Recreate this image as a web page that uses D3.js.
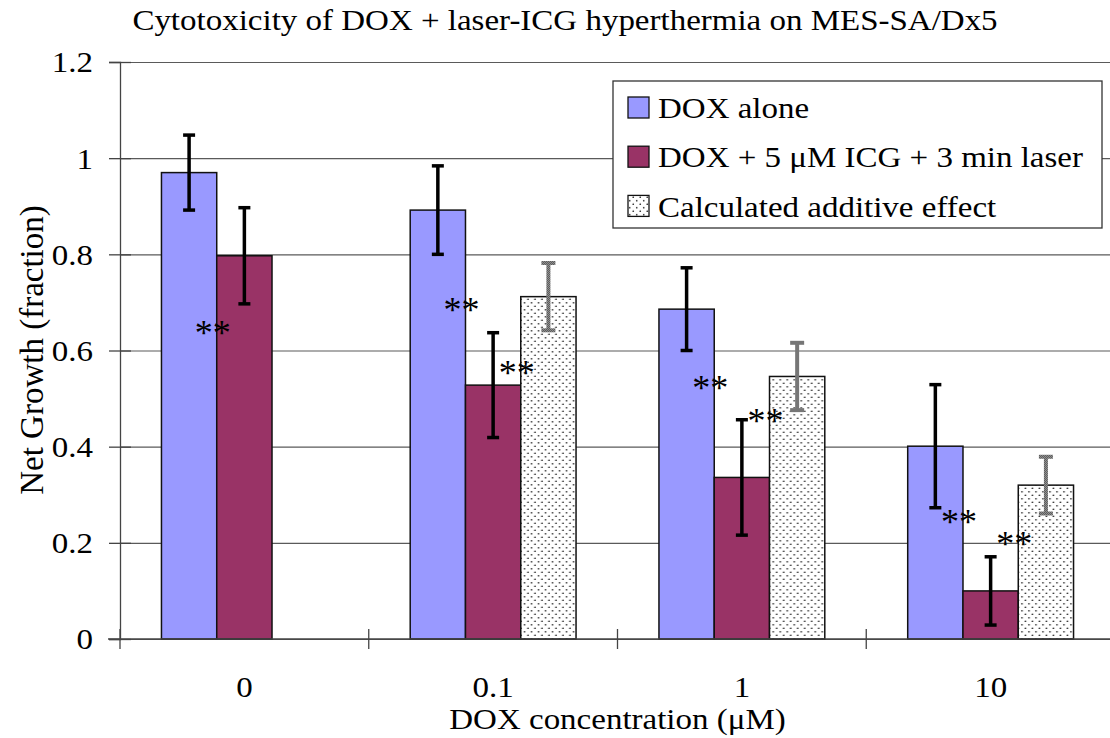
<!DOCTYPE html>
<html>
<head>
<meta charset="utf-8">
<script src="https://cdn.jsdelivr.net/npm/d3@7/dist/d3.min.js"></script>
<style>
  body { margin: 0; background: #fff; }
  svg { display: block; font-family: "Liberation Serif", "Times New Roman", serif; }
</style>
</head>
<body>
<div id="chart"></div>
<script>
// values
const categories = ["0", "0.1", "1", "10"];
const seriesNames = ["DOX alone", "DOX + 5 \u03bcM ICG + 3 min laser", "Calculated additive effect"];
const doxAlone = [0.970, 0.892, 0.686, 0.401];
const doxAloneErr = [0.078, 0.092, 0.086, 0.128];
const doxLaser = [0.797, 0.528, 0.336, 0.100];
const doxLaserErr = [0.100, 0.109, 0.120, 0.071];
const additive = [null, 0.712, 0.546, 0.320];
const additiveErr = [null, 0.070, 0.070, 0.059];
const yTicks = [0, 0.2, 0.4, 0.6, 0.8, 1, 1.2];
// significance marks: category, bar they sit after, height
const stars = [
    {cat: "0", after: 0, y: 0.647},
    {cat: "0.1", after: 0, y: 0.695},
    {cat: "0.1", after: 1, y: 0.564},
    {cat: "1", after: 0, y: 0.532},
    {cat: "1", after: 1, y: 0.464},
    {cat: "10", after: 0, y: 0.254},
    {cat: "10", after: 1, y: 0.208}
];

const width = 1110, height = 738;
const plot = {left: 120, right: 1115, top: 62, bottom: 639};
const fills = ["#9999ff", "#993366", "url(#dots)"];
const fontSize = 33;
const sq = 0.89; // the original text is a little flattened

const svg = d3.select("#chart").append("svg")
    .attr("width", width)
    .attr("height", height);

const defs = svg.append("defs");
const dots = defs.append("pattern")
    .attr("id", "dots")
    .attr("patternUnits", "userSpaceOnUse")
    .attr("width", 7)
    .attr("height", 7);
dots.append("rect").attr("width", 7).attr("height", 7).attr("fill", "#fff");
dots.append("circle").attr("cx", 1.75).attr("cy", 1.75).attr("r", 0.85).attr("fill", "#222");
dots.append("circle").attr("cx", 5.25).attr("cy", 5.25).attr("r", 0.85).attr("fill", "#222");

const checker = defs.append("pattern")
    .attr("id", "checker")
    .attr("patternUnits", "userSpaceOnUse")
    .attr("width", 2)
    .attr("height", 2);
checker.append("rect").attr("width", 2).attr("height", 2).attr("fill", "#a8a8a8");
checker.append("rect").attr("width", 1).attr("height", 1).attr("fill", "#444");
checker.append("rect").attr("x", 1).attr("y", 1).attr("width", 1).attr("height", 1).attr("fill", "#444");

const x = d3.scaleBand().domain(categories).range([plot.left, plot.right]);
const gap = x.bandwidth() / 6;
const sub = d3.scaleBand().domain(d3.range(3)).range([gap, x.bandwidth() - gap]);
const y = d3.scaleLinear().domain([0, 1.2]).range([plot.bottom, plot.top]);

function label(sel, px, py) {
    return sel.attr("transform", `translate(${px},${py}) scale(1,${sq})`)
        .attr("font-size", fontSize);
}

// gridlines
svg.append("g")
    .attr("transform", `translate(${plot.left},0)`)
    .call(d3.axisLeft(y).tickValues(yTicks).tickSize(-(width - plot.left)).tickFormat(""))
    .call(g => g.select(".domain").remove())
    .call(g => g.selectAll(".tick line").attr("stroke", "#5a5a5a").attr("stroke-width", 1.2));

// y axis
svg.append("g")
    .attr("transform", `translate(${plot.left},0)`)
    .call(d3.axisLeft(y).tickValues(yTicks).tickSize(11).tickFormat(d3.format("~g")))
    .call(g => g.select(".domain").attr("stroke", "#444").attr("stroke-width", 1.3))
    .call(g => g.selectAll(".tick line").attr("x1", 11).attr("stroke", "#444").attr("stroke-width", 1.3))
    .call(g => g.selectAll(".tick text")
        .attr("x", -27)
        .attr("dy", "0.34em")
        .attr("transform", `scale(1,${sq})`)
        .attr("font-size", fontSize)
        .attr("font-family", "Liberation Serif")
        .attr("fill", "#000"));

// bars
const rows = categories.map((c, i) => ({
    cat: c,
    bars: [
        {s: 0, v: doxAlone[i], e: doxAloneErr[i]},
        {s: 1, v: doxLaser[i], e: doxLaserErr[i]},
        {s: 2, v: additive[i], e: additiveErr[i]}
    ].filter(b => b.v != null)
}));

const groups = svg.append("g").selectAll("g")
    .data(rows)
    .join("g")
    .attr("transform", d => `translate(${x(d.cat)},0)`);

groups.selectAll("rect")
    .data(d => d.bars)
    .join("rect")
    .attr("x", b => sub(b.s))
    .attr("y", b => y(b.v))
    .attr("width", sub.bandwidth())
    .attr("height", b => y(0) - y(b.v))
    .attr("fill", b => fills[b.s])
    .attr("stroke", "#111")
    .attr("stroke-width", 1.5);

// error bars
groups.selectAll("g.err")
    .data(d => d.bars)
    .join("g")
    .attr("class", "err")
    .each(function (b) {
        const g = d3.select(this);
        const cx = sub(b.s) + sub.bandwidth() / 2;
        const col = b.s === 2 ? "url(#checker)" : "#000";
        const w = b.s === 2 ? 4 : 3.5;
        const cap = b.s === 2 ? 7 : 6;
        g.append("line")
            .attr("x1", cx).attr("x2", cx)
            .attr("y1", y(b.v + b.e)).attr("y2", y(b.v - b.e));
        g.append("line")
            .attr("x1", cx - cap).attr("x2", cx + cap)
            .attr("y1", y(b.v + b.e)).attr("y2", y(b.v + b.e));
        g.append("line")
            .attr("x1", cx - cap).attr("x2", cx + cap)
            .attr("y1", y(b.v - b.e)).attr("y2", y(b.v - b.e));
        g.selectAll("line").attr("stroke", col).attr("stroke-width", w);
    });

// x axis
svg.append("line")
    .attr("x1", plot.left - 12).attr("x2", width)
    .attr("y1", y(0)).attr("y2", y(0))
    .attr("stroke", "#444").attr("stroke-width", 1.3);

svg.append("g").selectAll("line")
    .data(categories)
    .join("line")
    .attr("x1", c => x(c)).attr("x2", c => x(c))
    .attr("y1", y(0) - 10).attr("y2", y(0) + 10)
    .attr("stroke", "#444").attr("stroke-width", 1.3);

svg.append("g")
    .attr("transform", `translate(0,${y(0)})`)
    .call(d3.axisBottom(x).tickSize(0))
    .call(g => g.select(".domain").remove())
    .call(g => g.selectAll(".tick text")
        .attr("y", 58 / sq)
        .attr("dy", 0)
        .attr("transform", `scale(1,${sq})`)
        .attr("font-size", fontSize)
        .attr("font-family", "Liberation Serif")
        .attr("fill", "#000"));

// significance stars
svg.append("g").selectAll("text")
    .data(stars)
    .join("text")
    .attr("x", d => x(d.cat) + sub(d.after) + sub.bandwidth() - 4)
    .attr("y", d => y(d.y) + 17)
    .attr("text-anchor", "middle")
    .attr("font-size", 36)
    .text("**");

// titles
svg.append("text")
    .call(label, 565, 30)
    .attr("text-anchor", "middle")
    .text("Cytotoxicity of DOX + laser-ICG hyperthermia on MES-SA/Dx5");

svg.append("text")
    .call(label, (plot.left + plot.right) / 2, 729)
    .attr("text-anchor", "middle")
    .text("DOX concentration (\u03bcM)");

svg.append("text")
    .attr("transform", `translate(43,350) rotate(-90)`)
    .attr("text-anchor", "middle")
    .attr("font-size", fontSize)
    .text("Net Growth (fraction)");

// legend
const legend = svg.append("g").attr("transform", "translate(613,81)");
legend.append("rect")
    .attr("width", 489)
    .attr("height", 147)
    .attr("fill", "#fff")
    .attr("stroke", "#333")
    .attr("stroke-width", 1.3);

const items = legend.selectAll("g")
    .data(seriesNames)
    .join("g")
    .attr("transform", (d, i) => `translate(15,${26.5 + i * 49.2})`);

items.append("rect")
    .attr("y", -10.5)
    .attr("width", 21)
    .attr("height", 21)
    .attr("fill", (d, i) => fills[i])
    .attr("stroke", "#111")
    .attr("stroke-width", 1.3);

items.append("text")
    .call(label, 30, 10.6)
    .text(d => d);
</script>
</body>
</html>
